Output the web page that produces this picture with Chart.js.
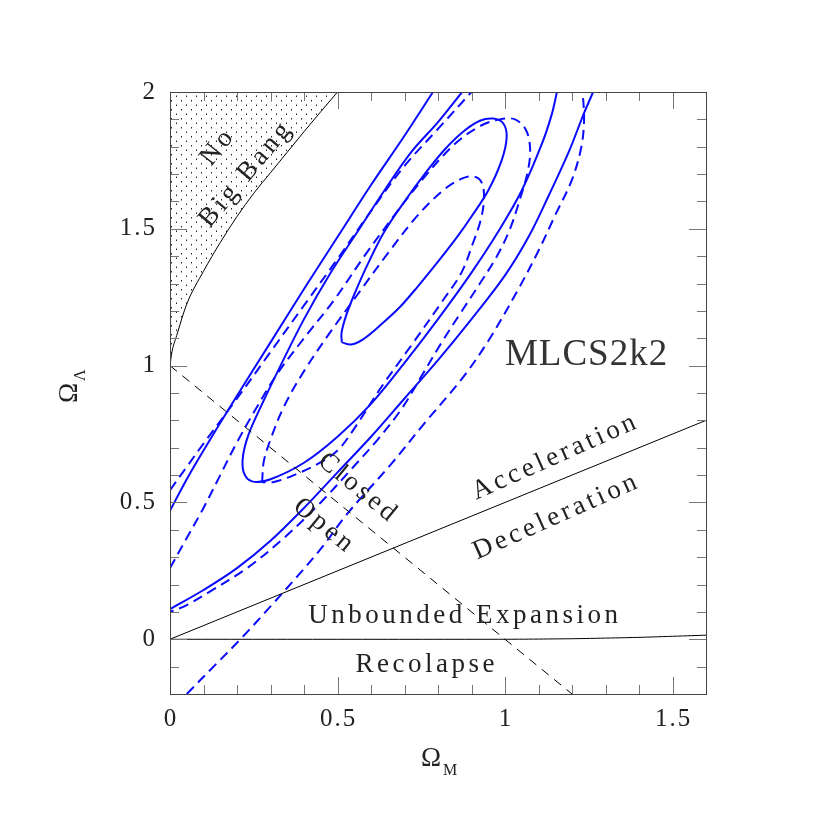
<!DOCTYPE html>
<html>
<head>
<meta charset="utf-8">
<script src="https://cdn.jsdelivr.net/npm/chart.js@4/dist/chart.umd.min.js"></script>
<style>
  body { margin: 0; background: #fff; }
  canvas { display: block; }
</style>
</head>
<body>
<canvas id="chart" width="830" height="830"></canvas>
<script>
// axis ranges and tick labels
const xRange = [0, 1.6];
const yRange = [-0.2, 2];
const xMajorTicks = [0, 0.5, 1, 1.5];
const xTickLabels = ['0', '0.5', '1', '1.5'];
const yMajorTicks = [0, 0.5, 1, 1.5, 2];
const yTickLabels = ['0', '0.5', '1', '1.5', '2'];

// [Omega_M, Omega_Lambda] pairs
// solid contours
const solidInner = [
  [0.513, 1.085], [0.512, 1.12], [0.525, 1.18], [0.55, 1.26], [0.59, 1.37],
  [0.64, 1.49], [0.70, 1.60], [0.76, 1.70], [0.82, 1.79], [0.875, 1.855],
  [0.925, 1.895], [0.965, 1.903], [0.995, 1.885], [1.005, 1.835], [0.99, 1.75],
  [0.95, 1.64], [0.90, 1.545], [0.86, 1.475], [0.80, 1.38], [0.74, 1.29],
  [0.687, 1.215], [0.63, 1.15], [0.575, 1.095], [0.54, 1.077], [0.513, 1.085]
];
const solidMiddle = [
  [0.872, 2.0], [0.80, 1.89], [0.72, 1.78], [0.64, 1.64], [0.56, 1.49],
  [0.48, 1.34], [0.40, 1.17], [0.33, 1.0], [0.275, 0.86], [0.235, 0.75],
  [0.218, 0.67], [0.22, 0.61], [0.245, 0.577], [0.30, 0.585], [0.40, 0.645],
  [0.50, 0.74], [0.60, 0.86], [0.70, 1.01], [0.80, 1.17], [0.90, 1.34],
  [0.98, 1.49], [1.05, 1.64], [1.11, 1.81], [1.14, 1.92], [1.155, 2.0]
];
const solidOuterUpper = [
  [0.0, 0.47], [0.05, 0.585], [0.1, 0.69], [0.2, 0.89], [0.3, 1.085],
  [0.4, 1.28], [0.5, 1.47], [0.6, 1.66], [0.7, 1.84], [0.785, 2.0]
];
const solidOuterLower = [
  [0.0, 0.11], [0.1, 0.18], [0.2, 0.26], [0.3, 0.36], [0.4, 0.48],
  [0.5, 0.61], [0.6, 0.74], [0.7, 0.88], [0.8, 1.02], [0.9, 1.17],
  [1.0, 1.33], [1.07, 1.47], [1.13, 1.62], [1.19, 1.78], [1.235, 1.92],
  [1.263, 2.0]
];
// dashed contours
const dashInner = [
  [0.275, 0.574], [0.28, 0.65], [0.30, 0.73], [0.34, 0.85], [0.40, 0.98],
  [0.48, 1.125], [0.56, 1.26], [0.65, 1.41], [0.74, 1.55], [0.82, 1.645],
  [0.875, 1.685], [0.91, 1.69], [0.932, 1.665], [0.937, 1.605], [0.927, 1.53],
  [0.905, 1.45], [0.87, 1.34], [0.815, 1.239], [0.725, 1.082], [0.63, 0.92],
  [0.55, 0.77], [0.50, 0.69], [0.44, 0.64], [0.37, 0.60], [0.31, 0.575],
  [0.275, 0.574]
];
const dashMiddle = [
  [0.0, 0.26], [0.05, 0.37], [0.1, 0.48], [0.15, 0.60], [0.2, 0.72],
  [0.26, 0.85], [0.32, 0.97], [0.40, 1.10], [0.49, 1.24], [0.58, 1.40],
  [0.67, 1.55], [0.76, 1.69], [0.85, 1.81], [0.925, 1.875], [0.985, 1.90],
  [1.03, 1.90], [1.063, 1.86], [1.075, 1.79], [1.068, 1.71], [1.045, 1.61],
  [1.015, 1.50], [0.976, 1.40], [0.925, 1.30], [0.866, 1.19], [0.806, 1.075],
  [0.75, 0.96], [0.69, 0.84], [0.62, 0.73], [0.54, 0.62], [0.45, 0.50],
  [0.34, 0.37], [0.23, 0.26], [0.12, 0.175], [0.05, 0.125], [0.0, 0.10]
];
const dashOuterUpper = [
  [0.0, 0.545], [0.05, 0.63], [0.1, 0.715], [0.2, 0.88], [0.3, 1.05],
  [0.4, 1.22], [0.5, 1.39], [0.6, 1.565], [0.7, 1.73], [0.8, 1.865],
  [0.9, 2.0]
];
const dashOuterLower = [
  [0.05, -0.2], [0.13, -0.1], [0.21, 0.0], [0.30, 0.12], [0.38, 0.23],
  [0.45, 0.33], [0.53, 0.46], [0.66, 0.64], [0.76, 0.79], [0.87, 0.95],
  [0.95, 1.09], [1.04, 1.28], [1.10, 1.42], [1.15, 1.55], [1.20, 1.68],
  [1.228, 1.80], [1.236, 1.90], [1.232, 2.0]
];

// model boundaries
const noBigBang = [
  [0.0, 1.0], [0.005, 1.045], [0.02, 1.11], [0.05, 1.225], [0.1, 1.345],
  [0.15, 1.45], [0.2, 1.545], [0.25, 1.63], [0.3, 1.705], [0.35, 1.78],
  [0.4, 1.855], [0.45, 1.928], [0.5, 2.0]
];
const flatUniverse = [[0, 1], [1.2, -0.2]];
const accelBoundary = [[0, 0], [1.6, 0.8]];
const recollapseBoundary = [[0, 0], [1.0, 0.0], [1.2, 0.002], [1.4, 0.007], [1.6, 0.015]];

// text labels: [text, Omega_M, Omega_Lambda, rotation deg]
const regionLabels = [
  ['No', 0.140, 1.795, -52],
  ['Big Bang', 0.224, 1.696, -50],
  ['Closed', 0.558, 0.556, 39.5],
  ['Open', 0.457, 0.417, 39.5],
  ['Acceleration', 1.146, 0.665, -24],
  ['Deceleration', 1.149, 0.446, -24],
  ['Unbounded Expansion', 0.875, 0.084, 0],
  ['Recolapse', 0.761, -0.095, 0]
];
const modelName = 'MLCS2k2';

const pts = arr => arr.map(p => ({ x: p[0], y: p[1] }));
const FONT = '"Liberation Serif", "Times New Roman", serif';

// dotted pattern for the no big bang region
function dotPattern() {
  const c = document.createElement('canvas');
  c.width = 10; c.height = 9;
  const g = c.getContext('2d');
  g.fillStyle = '#222';
  g.fillRect(1, 1, 1, 1.5);
  g.fillRect(6, 5.5, 1, 1.5);
  return g.createPattern(c, 'repeat');
}

function line(data, color, width, dash, extra) {
  return Object.assign({
    data: pts(data),
    showLine: true,
    borderColor: color,
    borderWidth: width,
    borderDash: dash || [],
    pointRadius: 0,
    fill: false,
    tension: 0.35
  }, extra || {});
}

function spacedText(ctx, str, cx, cy, angle, size, spacing, align) {
  ctx.save();
  ctx.translate(cx, cy);
  ctx.rotate(angle * Math.PI / 180);
  ctx.font = size + 'px ' + FONT;
  ctx.textBaseline = 'middle';
  ctx.textAlign = 'left';
  const chars = [...str];
  const widths = chars.map(ch => ctx.measureText(ch).width);
  const total = widths.reduce((a, b) => a + b, 0) + spacing * (chars.length - 1);
  let x = align === 'right' ? -total : -total / 2;
  chars.forEach((ch, i) => {
    ctx.fillText(ch, x, 0);
    x += widths[i] + spacing;
  });
  ctx.restore();
}

const framePlugin = {
  id: 'frame',
  afterDraw(chart) {
    const ctx = chart.ctx;
    const xs = chart.scales.x, ys = chart.scales.y;
    const a = chart.chartArea;
    ctx.save();

    // ticks on all four sides, pointing inward
    ctx.strokeStyle = '#777';
    ctx.lineWidth = 1;
    ctx.beginPath();
    for (let i = 0; i <= 16; i++) {
      const v = i / 10;
      const len = xMajorTicks.includes(v) ? 17 : 9;
      const px = Math.round(xs.getPixelForValue(v)) + 0.5;
      ctx.moveTo(px, a.bottom); ctx.lineTo(px, a.bottom - len);
      ctx.moveTo(px, a.top); ctx.lineTo(px, a.top + len);
    }
    for (let i = -2; i <= 20; i++) {
      const v = i / 10;
      const len = yMajorTicks.includes(v) ? 17 : 9;
      const py = Math.round(ys.getPixelForValue(v)) + 0.5;
      ctx.moveTo(a.left, py); ctx.lineTo(a.left + len, py);
      ctx.moveTo(a.right, py); ctx.lineTo(a.right - len, py);
    }
    ctx.stroke();

    // frame
    ctx.strokeStyle = '#444';
    ctx.strokeRect(Math.round(a.left) + 0.5, Math.round(a.top) + 0.5,
      Math.round(a.right - a.left), Math.round(a.bottom - a.top));

    // tick labels
    ctx.fillStyle = '#222';
    xMajorTicks.forEach((v, i) => {
      spacedText(ctx, xTickLabels[i], xs.getPixelForValue(v), a.bottom + 25, 0, 25, 2);
    });
    yMajorTicks.forEach((v, i) => {
      spacedText(ctx, yTickLabels[i], a.left - 15, ys.getPixelForValue(v), 0, 25, 2, 'right');
    });

    // axis titles
    ctx.textBaseline = 'middle';
    ctx.textAlign = 'center';
    ctx.font = '27px ' + FONT;
    ctx.fillText('\u03A9', 431, 759);
    ctx.font = '16px ' + FONT;
    ctx.textAlign = 'left';
    ctx.fillText('M', 443, 771);

    ctx.save();
    ctx.translate(70, 393);
    ctx.rotate(-Math.PI / 2);
    ctx.font = '27px ' + FONT;
    ctx.textAlign = 'center';
    ctx.fillText('\u03A9', 0, 0);
    ctx.font = '16px ' + FONT;
    ctx.textAlign = 'left';
    ctx.fillText('\u039B', 12, 11);
    ctx.restore();

    // region labels
    regionLabels.forEach(l => {
      spacedText(ctx, l[0], xs.getPixelForValue(l[1]), ys.getPixelForValue(l[2]), l[3], 27, 3.5);
    });
    ctx.fillStyle = '#333';
    spacedText(ctx, modelName, xs.getPixelForValue(1.242), ys.getPixelForValue(1.038), 0, 37, 1);

    ctx.restore();
  }
};

const BLUE = '#0a0aff';
const DASH = [10, 6];

new Chart(document.getElementById('chart'), {
  type: 'scatter',
  data: {
    datasets: [
      line(noBigBang, '#000', 1, null, {
        fill: 'end', backgroundColor: dotPattern(), cubicInterpolationMode: 'monotone'
      }),
      line(flatUniverse, '#000', 1, [9, 7], { tension: 0 }),
      line(accelBoundary, '#000', 1, null, { tension: 0 }),
      line(recollapseBoundary, '#000', 1, null, { tension: 0.2 }),
      line(solidInner, BLUE, 2),
      line(solidMiddle, BLUE, 2),
      line(solidOuterUpper, BLUE, 2),
      line(solidOuterLower, BLUE, 2),
      line(dashInner, BLUE, 2, DASH),
      line(dashMiddle, BLUE, 2, DASH),
      line(dashOuterUpper, BLUE, 2, DASH),
      line(dashOuterLower, BLUE, 2, DASH)
    ]
  },
  options: {
    responsive: false,
    animation: false,
    layout: { padding: { left: 170, top: 92, right: 124, bottom: 136 } },
    plugins: { legend: { display: false }, tooltip: { enabled: false } },
    scales: {
      x: { type: 'linear', min: xRange[0], max: xRange[1], display: false },
      y: { type: 'linear', min: yRange[0], max: yRange[1], display: false }
    }
  },
  plugins: [framePlugin]
});
</script>
</body>
</html>
